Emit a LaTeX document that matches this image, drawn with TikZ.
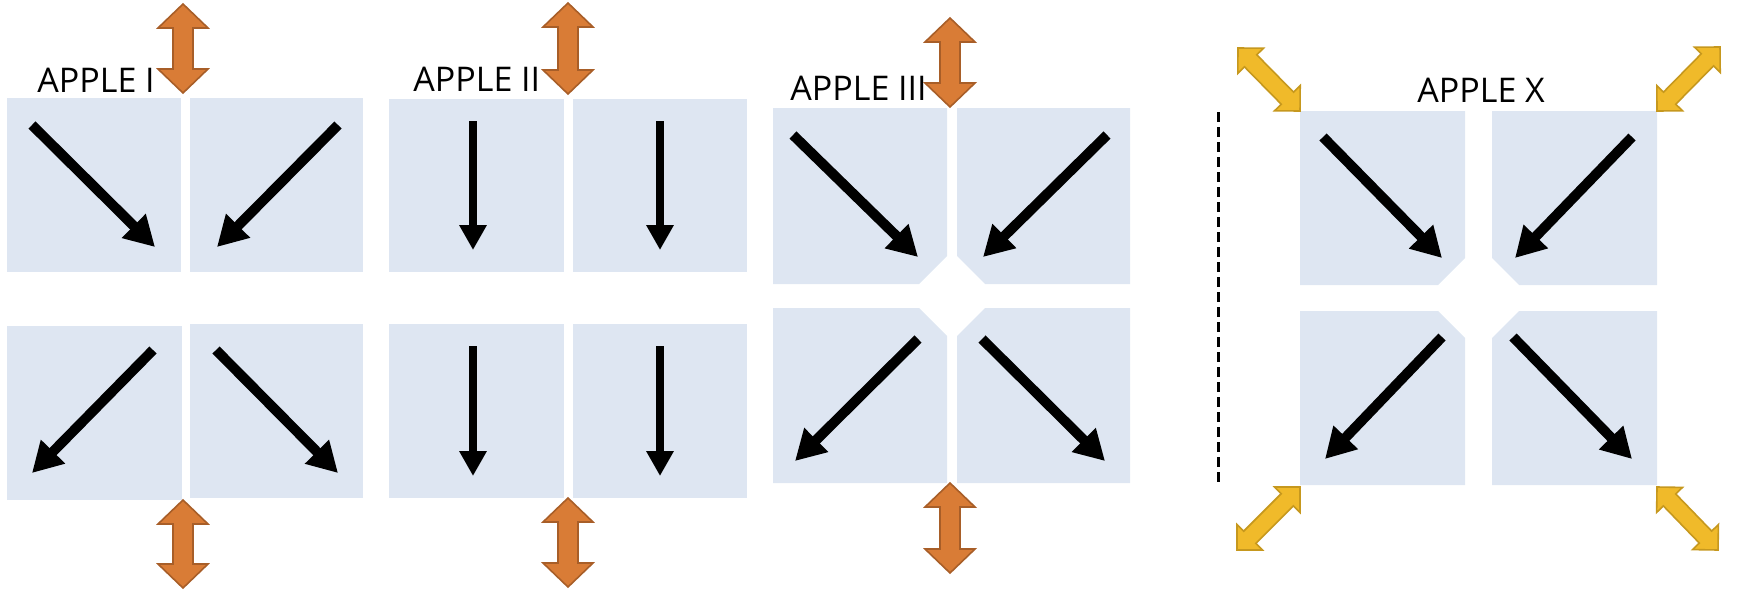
\documentclass[tikz,border=0pt]{standalone}
\usepackage{fontspec}
\setmainfont{Open Sans}
\usetikzlibrary{calc,arrows.meta}
\definecolor{boxblue}{RGB}{222,230,242}
\definecolor{orfill}{RGB}{217,124,54}
\definecolor{ordraw}{RGB}{168,94,40}
\definecolor{yefill}{RGB}{240,186,42}
\definecolor{yedraw}{RGB}{198,152,30}
\tikzset{
 cell/.style={fill=boxblue},
 diag/.style={line width=5pt, -{Triangle[length=15pt,width=16pt]}},
 vert/.style={line width=4pt, -{Triangle[length=12.5pt,width=13pt]}},
 orarrow/.style={fill=orfill, draw=ordraw, line width=0.8pt},
 yearrow/.style={fill=yefill, draw=yedraw, line width=0.8pt},
 lbl/.style={anchor=base west, inner sep=0pt, font=\fontsize{17}{20}\selectfont},
 sep/.style={line width=1.5pt, dash pattern=on 5pt off 2.5pt},
}
% double arrow from #1 to #2: head length #3, head half width #4, shaft half width #5, style #6
\newcommand{\myDblArrow}[6]{%
 \path[#6] (#1) -- ($(#1)!#3!(#2)!#4!90:(#2)$) -- ($(#1)!#3!(#2)!#5!90:(#2)$)
 -- ($(#2)!#3!(#1)!#5!-90:(#1)$) -- ($(#2)!#3!(#1)!#4!-90:(#1)$) -- (#2)
 -- ($(#2)!#3!(#1)!#4!90:(#1)$) -- ($(#2)!#3!(#1)!#5!90:(#1)$)
 -- ($(#1)!#3!(#2)!#5!-90:(#2)$) -- ($(#1)!#3!(#2)!#4!-90:(#2)$) -- cycle;}
\begin{document}
\begin{tikzpicture}[x=0.5pt,y=-0.5pt]
\useasboundingbox (0,0) rectangle (1748,594);
% ---------- APPLE I ----------
\fill[cell] (7,98) rectangle (181,272);
\fill[cell] (190,98) rectangle (363,272);
\fill[cell] (7,326) rectangle (182,500);
\fill[cell] (190,324) rectangle (363,498);
\node[lbl] (t1) at (37,92) {APPLE I};
\coordinate (a1s) at (32,125); \coordinate (a1e) at (155,247);
\coordinate (a2s) at (338,125); \coordinate (a2e) at (217,247);
\coordinate (a3s) at (153,350); \coordinate (a3e) at (32,473);
\coordinate (a4s) at (216,350); \coordinate (a4e) at (338,473);
\draw[diag] (a1s) -- (a1e);
\draw[diag] (a2s) -- (a2e);
\draw[diag] (a3s) -- (a3e);
\draw[diag] (a4s) -- (a4e);
\coordinate (o1a) at (183,4); \coordinate (o1b) at (183,93);
\coordinate (o2a) at (183,500); \coordinate (o2b) at (183,588);
\myDblArrow{o1a}{o1b}{12pt}{12.5pt}{5pt}{orarrow}
\myDblArrow{o2a}{o2b}{12pt}{12.5pt}{5pt}{orarrow}
% ---------- APPLE II ----------
\fill[cell] (389,99) rectangle (564,272);
\fill[cell] (573,99) rectangle (747,272);
\fill[cell] (389,324) rectangle (564,498);
\fill[cell] (573,324) rectangle (747,498);
\node[lbl] (t2) at (413,91) {APPLE II};
\coordinate (b1s) at (473,121); \coordinate (b1e) at (473,250);
\coordinate (b2s) at (660,121); \coordinate (b2e) at (660,250);
\coordinate (b3s) at (473,346); \coordinate (b3e) at (473,476);
\coordinate (b4s) at (660,346); \coordinate (b4e) at (660,476);
\draw[vert] (b1s) -- (b1e);
\draw[vert] (b2s) -- (b2e);
\draw[vert] (b3s) -- (b3e);
\draw[vert] (b4s) -- (b4e);
\coordinate (o3a) at (568,3); \coordinate (o3b) at (568,94);
\coordinate (o4a) at (568,498); \coordinate (o4b) at (568,587);
\myDblArrow{o3a}{o3b}{12pt}{12.5pt}{5pt}{orarrow}
\myDblArrow{o4a}{o4b}{12pt}{12.5pt}{5pt}{orarrow}
% ---------- APPLE III ----------
\fill[cell] (773,108) -- (947,108) -- (947,256) -- (919,284) -- (773,284) -- cycle;
\fill[cell] (957,108) -- (1130,108) -- (1130,284) -- (985,284) -- (957,256) -- cycle;
\fill[cell] (773,308) -- (919,308) -- (947,336) -- (947,483) -- (773,483) -- cycle;
\fill[cell] (985,308) -- (1130,308) -- (1130,483) -- (957,483) -- (957,336) -- cycle;
\node[lbl] (t3) at (790,100) {APPLE III};
\coordinate (c1s) at (793,135); \coordinate (c1e) at (918,257);
\coordinate (c2s) at (1107,135); \coordinate (c2e) at (983,257);
\coordinate (c3s) at (918,339); \coordinate (c3e) at (795,461);
\coordinate (c4s) at (982,339); \coordinate (c4e) at (1105,461);
\draw[diag] (c1s) -- (c1e);
\draw[diag] (c2s) -- (c2e);
\draw[diag] (c3s) -- (c3e);
\draw[diag] (c4s) -- (c4e);
\coordinate (o5a) at (950,18); \coordinate (o5b) at (950,107);
\coordinate (o6a) at (950,483); \coordinate (o6b) at (950,573);
\myDblArrow{o5a}{o5b}{12pt}{12.5pt}{5pt}{orarrow}
\myDblArrow{o6a}{o6b}{12pt}{12.5pt}{5pt}{orarrow}
% ---------- separator ----------
\coordinate (s1) at (1218,112); \coordinate (s2) at (1218,485);
\draw[sep] (s1) -- (s2);
% ---------- APPLE X ----------
\fill[cell] (1300,111) -- (1465,111) -- (1465,258) -- (1438,285) -- (1300,285) -- cycle;
\fill[cell] (1492,111) -- (1657,111) -- (1657,285) -- (1519,285) -- (1492,258) -- cycle;
\fill[cell] (1300,311) -- (1438,311) -- (1465,338) -- (1465,485) -- (1300,485) -- cycle;
\fill[cell] (1519,311) -- (1657,311) -- (1657,485) -- (1492,485) -- (1492,338) -- cycle;
\node[lbl] (t4) at (1417,102) {APPLE X};
\coordinate (d1s) at (1323,137); \coordinate (d1e) at (1442,258);
\coordinate (d2s) at (1632,137); \coordinate (d2e) at (1515,258);
\coordinate (d3s) at (1442,337); \coordinate (d3e) at (1325,459);
\coordinate (d4s) at (1513,337); \coordinate (d4e) at (1632,459);
\draw[diag] (d1s) -- (d1e);
\draw[diag] (d2s) -- (d2e);
\draw[diag] (d3s) -- (d3e);
\draw[diag] (d4s) -- (d4e);
\coordinate (y1a) at (1238,48); \coordinate (y1b) at (1300,111);
\coordinate (y2a) at (1657,111); \coordinate (y2b) at (1720,47);
\coordinate (y3a) at (1300,487); \coordinate (y3b) at (1237,550);
\coordinate (y4a) at (1657,487); \coordinate (y4b) at (1718,550);
\myDblArrow{y1a}{y1b}{9pt}{9pt}{4.3pt}{yearrow}
\myDblArrow{y2a}{y2b}{9pt}{9pt}{4.3pt}{yearrow}
\myDblArrow{y3a}{y3b}{9pt}{9pt}{4.3pt}{yearrow}
\myDblArrow{y4a}{y4b}{9pt}{9pt}{4.3pt}{yearrow}
\end{tikzpicture}
\end{document}
